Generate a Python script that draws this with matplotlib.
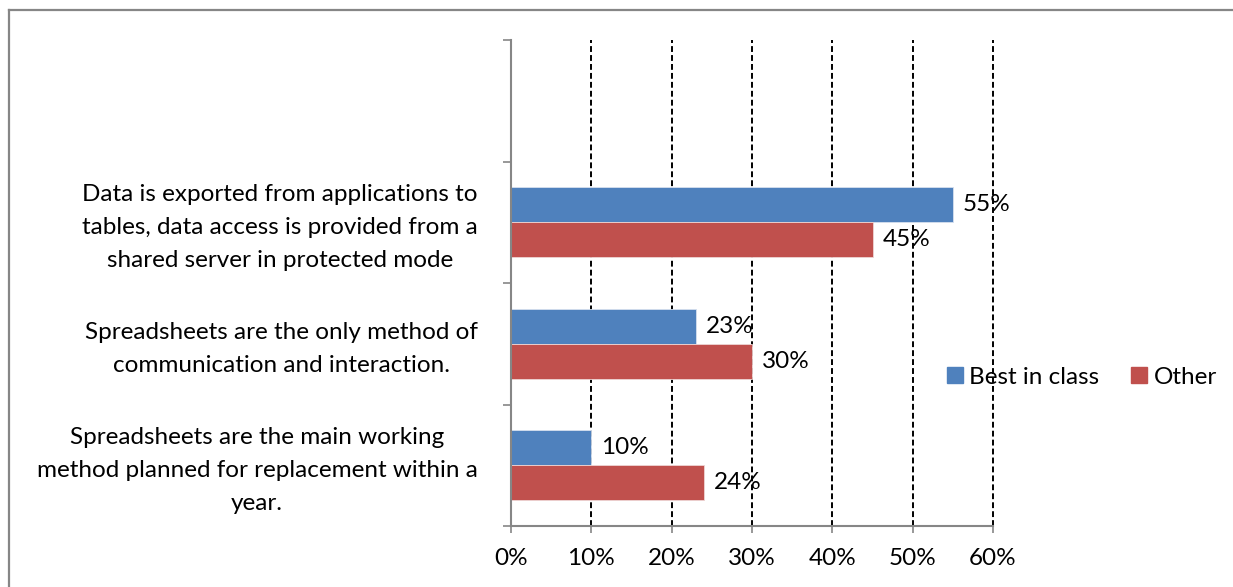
import matplotlib
matplotlib.use("Agg")
import matplotlib.pyplot as plt
from matplotlib.lines import Line2D

plt.rcParams['font.family'] = ['Lato', 'DejaVu Sans']

categories = [
    "Spreadsheets are the main working\nmethod planned for replacement within a\nyear.",
    "Spreadsheets are the only method of\ncommunication and interaction.",
    "Data is exported from applications to\ntables, data access is provided from a\nshared server in protected mode",
    "",
]
best_in_class = [10, 23, 55, None]
other = [24, 30, 45, None]
series_names = ["Best in class", "Other"]
x_ticks = [0, 10, 20, 30, 40, 50, 60]
x_tick_labels = ["0%", "10%", "20%", "30%", "40%", "50%", "60%"]

BLUE = "#4F81BD"
RED = "#C0504D"
AXIS_GRAY = "#868686"
FS = 17.5

fig = plt.figure(figsize=(12.33, 5.87), dpi=100)
ax = fig.add_axes([511 / 1233, 61 / 587, 482 / 1233, 486 / 587])

bar_h = 0.288
centers = [i + 0.5 for i in range(len(categories))]

for i, (c, b, o) in enumerate(zip(centers, best_in_class, other)):
    if b is not None:
        ax.barh(c + bar_h / 2, b, height=bar_h, color=BLUE, edgecolor="#d7e0ee",
                linewidth=0.6, zorder=3)
        ax.annotate(f"{b}%", (b, c + bar_h / 2), xytext=(7, 0), textcoords="offset points",
                    va="center", ha="left", fontsize=FS, zorder=5)
    if o is not None:
        ax.barh(c - bar_h / 2, o, height=bar_h, color=RED, edgecolor="#eed5d4",
                linewidth=0.6, zorder=3)
        ax.annotate(f"{o}%", (o, c - bar_h / 2), xytext=(7, 0), textcoords="offset points",
                    va="center", ha="left", fontsize=FS, zorder=5)

ax.set_xlim(0, 60)
ax.set_ylim(0, len(categories))

ax.set_xticks(x_ticks)
ax.set_xticklabels(x_tick_labels, fontsize=FS)
ax.tick_params(axis="x", length=5, width=1.2, color=AXIS_GRAY, pad=11)

# Major y ticks at category boundaries, labels on minor ticks at centers
ax.set_yticks(range(len(categories) + 1))
ax.set_yticklabels([])
ax.tick_params(axis="y", which="major", length=6, width=1.2, color=AXIS_GRAY)
ax.set_yticks(centers, minor=True)
ax.set_yticklabels(categories, minor=True, fontsize=FS, multialignment="center",
                   linespacing=1.68)
ax.tick_params(axis="y", which="minor", length=0, pad=24)
for lbl in ax.get_yticklabels(minor=True):
    lbl.set_y(lbl.get_position()[1])
    lbl.set_transform(lbl.get_transform() + matplotlib.transforms.ScaledTranslation(
        0, 2.5 / 100, fig.dpi_scale_trans))

for x in x_ticks[1:]:
    ax.axvline(x, color="black", linestyle=(0, (3.0, 1.6)), linewidth=1.4, zorder=1,
               clip_on=False)

for side in ("top", "right"):
    ax.spines[side].set_visible(False)
for side in ("left", "bottom"):
    ax.spines[side].set_color(AXIS_GRAY)
    ax.spines[side].set_linewidth(1.5)
    ax.spines[side].set_zorder(4)

handles = [Line2D([], [], marker="s", linestyle="none", markersize=11,
                  markerfacecolor=BLUE, markeredgecolor=BLUE),
           Line2D([], [], marker="s", linestyle="none", markersize=11,
                  markerfacecolor=RED, markeredgecolor=RED)]
fig.legend(handles, series_names, loc="center left", bbox_to_anchor=(933 / 1233, 1 - 377 / 587),
           ncol=2, frameon=False, fontsize=FS, handletextpad=0.1, columnspacing=1.12,
           handlelength=1.0, borderaxespad=0)

# Outer chart frame (top and left edges)
fig.add_artist(Line2D([8.5 / 1233, 8.5 / 1233], [0, 1 - 9.5 / 587], color=AXIS_GRAY,
                      linewidth=1.6, transform=fig.transFigure))
fig.add_artist(Line2D([8.5 / 1233, 1], [1 - 9.5 / 587, 1 - 9.5 / 587], color=AXIS_GRAY,
                      linewidth=1.6, transform=fig.transFigure))

fig.savefig("out.png", dpi=100)
